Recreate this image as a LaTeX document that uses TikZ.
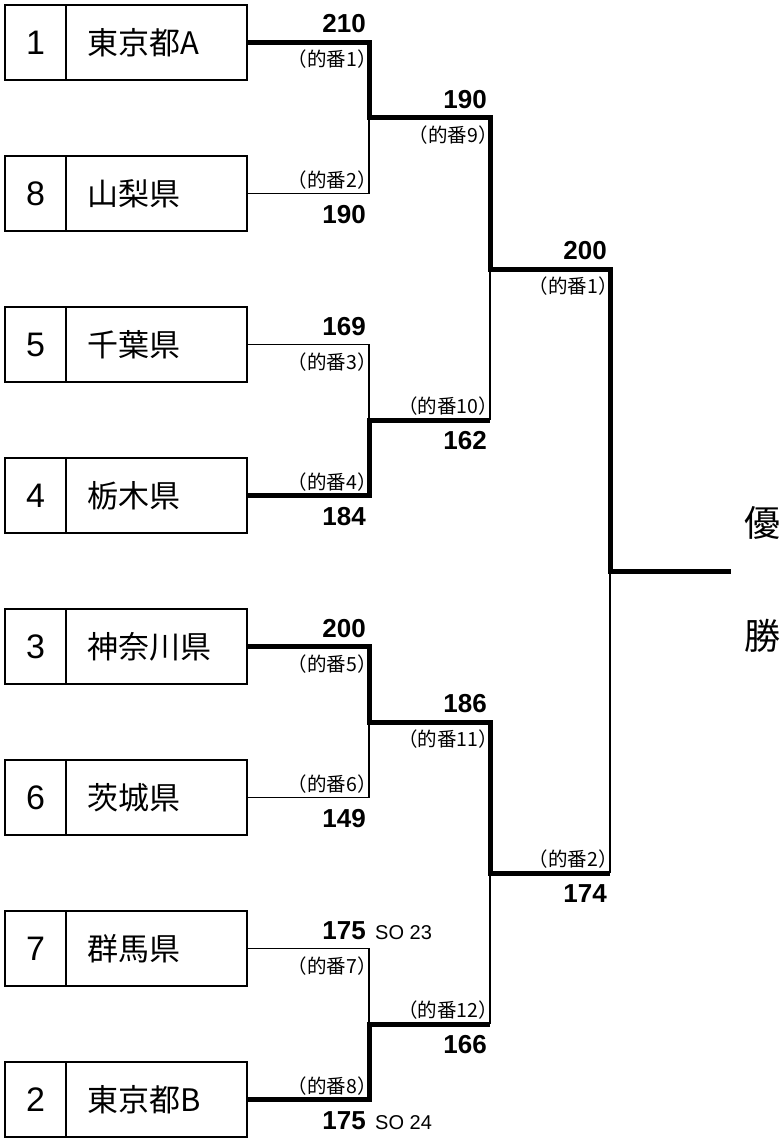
\documentclass[tikz,border=0pt]{standalone}
\usepackage{fontspec}
\setmainfont{Noto Sans CJK JP}
\newfontfamily\lsans{Liberation Sans}
\begin{document}
\begin{tikzpicture}[x=1pt,y=-1pt,
  numcell/.style={draw, line width=1.2, minimum width=61, minimum height=75, inner sep=0, font=\lsans\fontsize{34}{34}\selectfont},
  namecell/.style={draw, line width=1.2, minimum height=75, text width=139, inner xsep=21, inner ysep=0, align=left, font=\fontsize{31}{31}\selectfont},
  winner/.style={line width=5, line join=miter},
  loser/.style={line width=1.1},
  score/.style={inner sep=0, anchor=base east, font=\lsans\bfseries\fontsize{26}{26}\selectfont},
  match/.style={inner sep=0, anchor=base east, font=\fontsize{19.5}{19.5}\selectfont},
  so/.style={inner sep=0, anchor=base west, font=\lsans\fontsize{20}{20}\selectfont},
  title/.style={inner sep=0, font=\fontsize{36}{36}\selectfont}
]
\useasboundingbox (0,0) rectangle (781,1142);

% boxes
\foreach \id/\num/\name/\c in {1/1/東京都A/42.5, 8/8/山梨県/193.5, 5/5/千葉県/344.5, 4/4/栃木県/495.5, 3/3/神奈川県/646.5, 6/6/茨城県/797.5, 7/7/群馬県/948.5, 2/2/東京都B/1099.5}{
  \node[numcell] (c\id) at (35.5,\c) {\num};
  \node[namecell] (n\id) at (156.5,\c) {\name};
}

% junctions
\coordinate (a1) at (369,42.5);   \coordinate (a8) at (369,193.5);
\coordinate (a5) at (369,344.5);  \coordinate (a4) at (369,495.5);
\coordinate (a3) at (369,646.5);  \coordinate (a6) at (369,797.5);
\coordinate (a7) at (369,948.5);  \coordinate (a2) at (369,1099.5);
\coordinate (m1) at (369,118);    \coordinate (m2) at (369,420);
\coordinate (m3) at (369,722);    \coordinate (m4) at (369,1024);
\coordinate (p1) at (490,118);    \coordinate (p2) at (490,420);
\coordinate (p3) at (490,722);    \coordinate (p4) at (490,1024);
\coordinate (q1) at (490,269);    \coordinate (q2) at (490,873);
\coordinate (r1) at (610,269);    \coordinate (r2) at (610,873);
\coordinate (f)  at (610,571);    \coordinate (fe) at (731,571);

% upper half
\draw[winner] (n1.east) -- (a1) -- (m1) -- (p1) -- (q1) -- (r1) -- (f) -- (fe);
\draw[loser] (n8.east) -- (a8) -- (m1);
\draw[loser] (n5.east) -- (a5) -- (m2);
\draw[winner] (n4.east) -- (a4) -- (m2) -- (p2);
\draw[loser] (p2) -- (q1);
% lower half
\draw[winner] (n3.east) -- (a3) -- (m3) -- (p3) -- (q2) -- (r2);
\draw[loser] (r2) -- (f);
\draw[loser] (n6.east) -- (a6) -- (m3);
\draw[loser] (n7.east) -- (a7) -- (m4);
\draw[winner] (n2.east) -- (a2) -- (m4) -- (p4);
\draw[loser] (p4) -- (q2);

% round 1 labels
\node[score] (s1) at (366,33) {210};
\node[match] (t1) at (377,67) {（的番1）};
\node[match] (t2) at (377,187) {（的番2）};
\node[score] (s8) at (366,223) {190};

\node[score] (s5) at (366,335) {169};
\node[match] (t3) at (377,369) {（的番3）};
\node[match] (t4) at (377,489) {（的番4）};
\node[score] (s4) at (366,525) {184};

\node[score] (s3) at (366,637) {200};
\node[match] (t5) at (377,671) {（的番5）};
\node[match] (t6) at (377,791) {（的番6）};
\node[score] (s6) at (366,827) {149};

\node[score] (s7) at (366,939) {175};
\node[so] (o7) at (375,939) {SO 23};
\node[match] (t7) at (377,973) {（的番7）};
\node[match] (t8) at (377,1093) {（的番8）};
\node[score] (s2) at (366,1129) {175};
\node[so] (o2) at (375,1129) {SO 24};

% round 2 labels
\node[score] (u1) at (487,108.5) {190};
\node[match] (v1) at (498,142.5) {（的番9）};
\node[match] (v2) at (498,413) {（的番10）};
\node[score] (u2) at (487,449.5) {162};
\node[score] (u3) at (487,712.5) {186};
\node[match] (v3) at (498,746.5) {（的番11）};
\node[match] (v4) at (498,1017) {（的番12）};
\node[score] (u4) at (487,1053.5) {166};

% round 3 labels
\node[score] (w1) at (607,259.5) {200};
\node[match] (x1) at (618,293.5) {（的番1）};
\node[match] (x2) at (618,866) {（的番2）};
\node[score] (w2) at (607,902.5) {174};

% title
\node[title] (y1) at (762,523) {優};
\node[title] (y2) at (762,636) {勝};
\end{tikzpicture}
\end{document}
